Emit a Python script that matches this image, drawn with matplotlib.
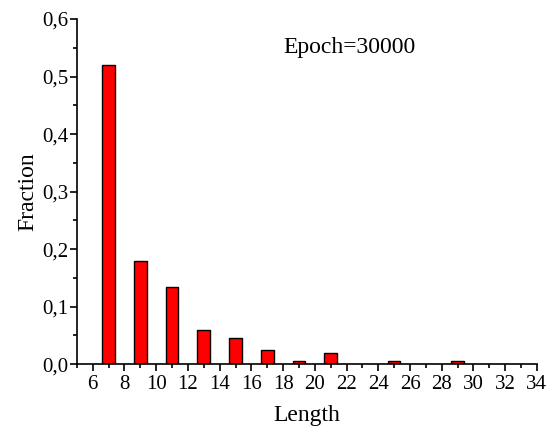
import matplotlib
matplotlib.use("Agg")
import matplotlib.pyplot as plt
from matplotlib.ticker import MultipleLocator, FuncFormatter

# length distribution of sequences at epoch 30000
lengths = [7, 9, 11, 13, 15, 17, 19, 21, 25, 29]
fractions = [0.52, 0.18, 0.135, 0.06, 0.045, 0.025, 0.005, 0.02, 0.005, 0.005]

plt.rcParams['font.family'] = ['Liberation Serif', 'DejaVu Serif']

fig = plt.figure(figsize=(5.49, 4.32), dpi=100)
ax = fig.add_axes([0.140, 0.157, 0.838, 0.799])

ax.bar(lengths, fractions, width=0.8, color='#ff0000', edgecolor='black', linewidth=1.0)

ax.set_xlim(5, 34)
ax.set_ylim(0, 0.6)
ax.xaxis.set_major_locator(MultipleLocator(2))
ax.xaxis.set_minor_locator(MultipleLocator(1))
ax.yaxis.set_major_locator(MultipleLocator(0.1))
ax.yaxis.set_minor_locator(MultipleLocator(0.05))
ax.set_xticks(range(6, 35, 2))
ax.yaxis.set_major_formatter(FuncFormatter(lambda v, p: f"{v:.1f}".replace('.', ',')))

for side in ['top', 'right']:
    ax.spines[side].set_visible(False)
for side in ['left', 'bottom']:
    ax.spines[side].set_linewidth(1.2)

ax.tick_params(which='major', direction='out', length=5, width=1.2, labelsize=15)
ax.tick_params(which='minor', direction='out', length=3, width=1.2)
ax.tick_params(axis='y', which='major', pad=1)
ax.tick_params(axis='x', which='major', pad=3)

ax.set_xlabel('Length', fontsize=17, labelpad=8)
ax.set_ylabel('Fraction', fontsize=17, labelpad=3)

ax.text(18, 0.55, 'Epoch=30000', fontsize=17, va='center', ha='left')

fig.savefig('out.png', dpi=100)
